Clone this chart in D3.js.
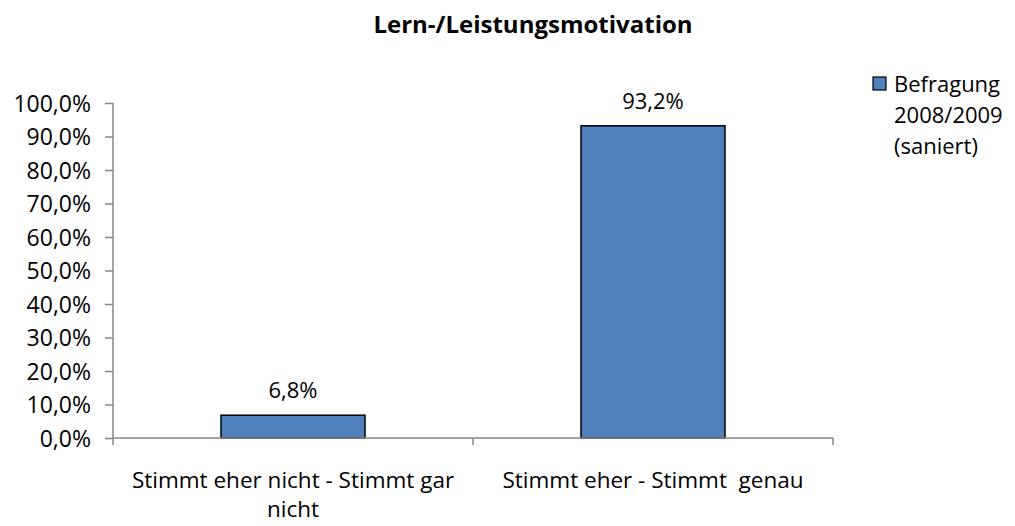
<!DOCTYPE html>
<html>
<head>
<meta charset="utf-8">
<script src="https://cdn.jsdelivr.net/npm/d3@7"></script>
<style>
  body { margin: 0; background: #fff; }
  text { font-family: "Open Sans", "Noto Sans", sans-serif; fill: #000; }
</style>
</head>
<body>
<div id="chart"></div>
<script>
// chart data
var categories = ["Stimmt eher nicht - Stimmt gar nicht", "Stimmt eher - Stimmt genau"];
var categoryLines = [["Stimmt eher nicht - Stimmt gar", "nicht"], ["Stimmt eher - Stimmt\u00a0 genau"]];
var values = [6.8, 93.2];
var seriesName = ["Befragung", "2008/2009", "(saniert)"];
var yTicks = [0, 10, 20, 30, 40, 50, 60, 70, 80, 90, 100];

var svgWidth = 1015;
var svgHeight = 526;

var margin = { top: 103, left: 113, right: 182, bottom: 88 };
var width = svgWidth - margin.left - margin.right;
var height = svgHeight - margin.top - margin.bottom;

var svg = d3.select("#chart").append("svg")
    .attr("width", svgWidth)
    .attr("height", svgHeight);

// title
svg.append("text")
    .attr("x", 533)
    .attr("y", 33)
    .attr("text-anchor", "middle")
    .attr("font-size", "24px")
    .attr("font-weight", "bold")
    .text("Lern-/Leistungsmotivation");

var chartGroup = svg.append("g")
    .attr("transform", `translate(${margin.left}, ${margin.top})`);

var xScale = d3.scaleBand()
    .domain(categories)
    .range([0, width])
    .paddingInner(0.6)
    .paddingOuter(0.3);

var yScale = d3.scaleLinear()
    .domain([0, 100])
    .range([height, 0]);

var fmt = v => d3.format(".1f")(v).replace(".", ",") + "%";

// y axis
var yAxis = chartGroup.append("g")
    .call(d3.axisLeft(yScale).tickValues(yTicks).tickSize(8).tickPadding(14).tickFormat(fmt));
yAxis.select(".domain").attr("stroke", "#868686").attr("stroke-width", 1.5).attr("d", `M0,0V${height}`);
yAxis.selectAll(".tick line").attr("stroke", "#868686").attr("stroke-width", 1.5);
yAxis.selectAll(".tick text")
    .attr("font-size", "23px")
    .attr("fill", "#000")
    .attr("dy", "0.36em")
    .attr("font-family", "'Open Sans', sans-serif");

// bars
chartGroup.selectAll(".bar")
    .data(values)
    .enter()
    .append("rect")
    .attr("class", "bar")
    .attr("x", (d, i) => xScale(categories[i]))
    .attr("y", d => yScale(d))
    .attr("width", xScale.bandwidth())
    .attr("height", d => height - yScale(d))
    .attr("fill", "#4F81BD")
    .attr("stroke", "#000")
    .attr("stroke-width", 1.5);

// value labels
chartGroup.selectAll(".valueLabel")
    .data(values)
    .enter()
    .append("text")
    .attr("class", "valueLabel")
    .attr("x", (d, i) => xScale(categories[i]) + xScale.bandwidth() / 2)
    .attr("y", d => yScale(d) - 17)
    .attr("text-anchor", "middle")
    .attr("font-size", "22px")
    .text(d => d.toFixed(1).replace(".", ",") + "%");

// x axis line with ticks at category boundaries
var boundaries = d3.range(categories.length + 1).map(i => i * width / categories.length);
var xAxis = chartGroup.append("g").attr("transform", `translate(0, ${height})`);
xAxis.append("line")
    .attr("x1", 0).attr("x2", width)
    .attr("y1", 0).attr("y2", 0)
    .attr("stroke", "#868686").attr("stroke-width", 1.5);
xAxis.selectAll(".xtick")
    .data(boundaries)
    .enter()
    .append("line")
    .attr("x1", d => d).attr("x2", d => d)
    .attr("y1", 0).attr("y2", 7)
    .attr("stroke", "#868686").attr("stroke-width", 1.5);

// category labels (wrapped)
var catLabels = xAxis.selectAll(".catLabel")
    .data(categories)
    .enter()
    .append("text")
    .attr("class", "catLabel")
    .attr("text-anchor", "middle")
    .attr("font-size", "22.5px")
    .attr("transform", d => `translate(${xScale(d) + xScale.bandwidth() / 2}, 50)`);
catLabels.each(function(d, i) {
    d3.select(this).selectAll("tspan")
        .data(categoryLines[i])
        .enter()
        .append("tspan")
        .attr("x", 0)
        .attr("dy", (t, j) => j === 0 ? 0 : 29)
        .text(t => t);
});

// legend
var legend = svg.append("g").attr("transform", "translate(873, 77)");
legend.append("rect")
    .attr("width", 13).attr("height", 13)
    .attr("fill", "#4F81BD")
    .attr("stroke", "#000")
    .attr("stroke-width", 1.2);
legend.append("text")
    .attr("x", 21)
    .attr("y", 15)
    .attr("font-size", "22px")
    .selectAll("tspan")
    .data(seriesName)
    .enter()
    .append("tspan")
    .attr("x", 21)
    .attr("dy", (t, j) => j === 0 ? 0 : 31)
    .text(t => t);
</script>
</body>
</html>
